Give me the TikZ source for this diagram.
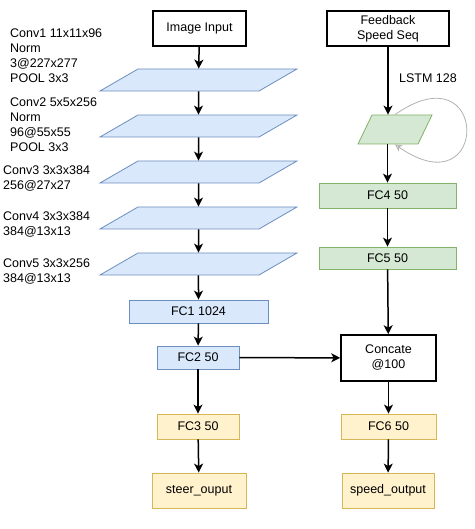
\documentclass[tikz,border=0pt]{standalone}
\usepackage{fontspec}
\setmainfont{Liberation Sans}
\usetikzlibrary{arrows.meta}
\definecolor{convBlue}{HTML}{DAE8FC}
\definecolor{convEdge}{HTML}{6C8EBF}
\definecolor{lstmGreen}{HTML}{D5E8D4}
\definecolor{lstmEdge}{HTML}{82B366}
\definecolor{outYellow}{HTML}{FFF2CC}
\definecolor{outEdge}{HTML}{D6B656}

\begin{document}
\begin{tikzpicture}[x=1pt, y=1pt,
    font=\fontsize{12.5}{15}\selectfont,
    iobox/.style={draw, line width=1.6pt, align=center, inner sep=0pt},
    bluebox/.style={draw=convEdge, fill=convBlue, line width=0.8pt, inner sep=0pt},
    greenbox/.style={draw=lstmEdge, fill=lstmGreen, line width=0.8pt, inner sep=0pt},
    yellowbox/.style={draw=outEdge, fill=outYellow, line width=0.8pt, inner sep=0pt},
    layer/.style={bluebox, xslant=1.727, transform shape,
        minimum width=159pt, minimum height=22pt},
    note/.style={anchor=west, align=left, inner sep=0pt},
    arr/.style={-{Stealth[length=9pt, width=9pt, inset=2.5pt]}, line width=1.5pt},
    loopline/.style={draw=gray!60, line width=0.8pt,
        -{Stealth[length=7pt, width=7pt, fill=lstmGreen]}}]
  \fill[white] (0,0) rectangle (474,529);
  \useasboundingbox (0,0) rectangle (474,529);

  % image branch
  \node[iobox, minimum width=93pt, minimum height=35pt] (img) at (199.5,500.5) {Image Input};
  \node[layer] (conv1) at (198.5,449) {};
  \node[layer] (conv2) at (198.5,403) {};
  \node[layer] (conv3) at (198.5,357) {};
  \node[layer] (conv4) at (198.5,311) {};
  \node[layer] (conv5) at (198.5,265) {};
  \node[note] (conv1txt) at (10,473.5) {Conv1 11x11x96\\Norm\\3@227x277\\POOL 3x3};
  \node[note] (conv2txt) at (10,404.5) {Conv2 5x5x256\\Norm\\96@55x55\\POOL 3x3};
  \node[note] (conv3txt) at (3,350) {Conv3 3x3x384\\256@27x27};
  \node[note] (conv4txt) at (3,304) {Conv4 3x3x384\\384@13x13};
  \node[note] (conv5txt) at (3,257.5) {Conv5 3x3x256\\384@13x13};
  \node[bluebox, minimum width=139pt, minimum height=23pt] (fc1) at (198.5,217.5) {FC1 1024};
  \node[bluebox, minimum width=82pt, minimum height=23pt] (fc2) at (198,171.5) {FC2 50};
  \node[yellowbox, minimum width=82pt, minimum height=25pt] (fc3) at (198,102.5) {FC3 50};
  \node[yellowbox, minimum width=94pt, minimum height=35pt] (steer) at (199,38.5) {steer\_ouput};

  % speed branch
  \node[iobox, minimum width=122pt, minimum height=35pt] (fb) at (388,500.5) {Feedback\\Speed Seq};
  \node (lstmtxt) at (428,451) {LSTM 128};
  \node[greenbox, xslant=0.483, transform shape,
        minimum width=60pt, minimum height=29pt] (lstm) at (395,399.5) {};
  \node[greenbox, minimum width=137pt, minimum height=25pt] (fc4) at (387.5,333.5) {FC4 50};
  \node[greenbox, minimum width=137pt, minimum height=22pt] (fc5) at (387.5,271) {FC5 50};
  \node[iobox, minimum width=95pt, minimum height=46pt] (concat) at (388.5,171) {Concate\\@100};
  \node[yellowbox, minimum width=95pt, minimum height=25pt] (fc6) at (388.5,102.5) {FC6 50};
  \node[yellowbox, minimum width=92pt, minimum height=35pt] (speed) at (388,38.5) {speed\_output};

  \draw[arr] (img) -- (conv1);
  \draw[arr] (conv1) -- (conv2);
  \draw[arr] (conv2) -- (conv3);
  \draw[arr] (conv3) -- (conv4);
  \draw[arr] (conv4) -- (conv5);
  \draw[arr] (conv5) -- (fc1);
  \draw[arr] (fc1) -- (fc2);
  \draw[arr] (fc2) -- (fc3);
  \draw[arr] (fc3) -- (steer);
  \draw[arr] (fc2) -- (concat);
  \draw[arr] (fb) -- (fb |- lstm.north);
  \draw[arr] (lstm.south -| fc4) -- (fc4);
  \draw[arr] (fc4) -- (fc5);
  \draw[arr] (fc5) -- (concat);
  \draw[arr] (concat) -- (fc6);
  \draw[arr] (fc6) -- (speed);
  \draw[loopline] (lstm.north -| lstm.center) to[out=35, in=-35, looseness=10]
    (lstm.south -| lstm.center);
\end{tikzpicture}
\end{document}
